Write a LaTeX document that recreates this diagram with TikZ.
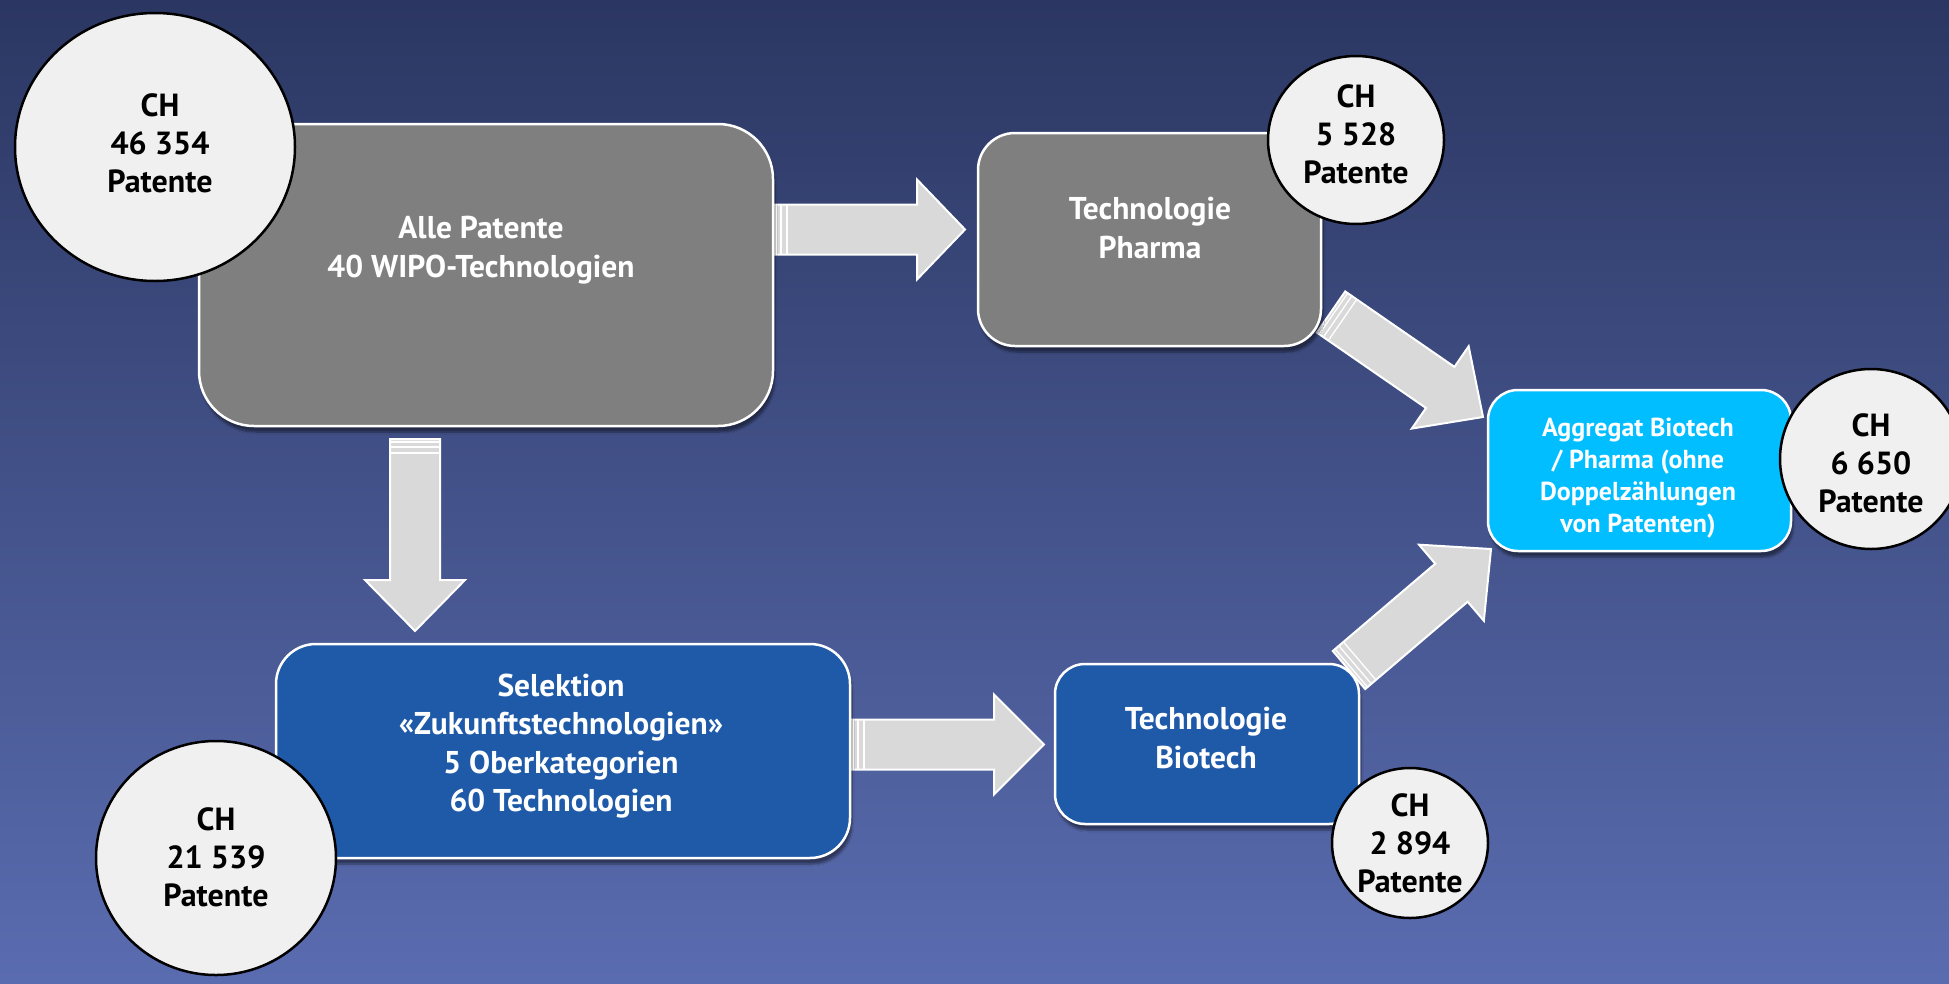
\documentclass[tikz,border=0pt]{standalone}
\usepackage{fontspec}
\setmainfont{PT Sans}
\usetikzlibrary{calc,shadows.blur,shapes.geometric}
\definecolor{bgtop}{HTML}{2B3762}
\definecolor{bgbot}{HTML}{5A6CB0}
\definecolor{boxgray}{HTML}{7F7F7F}
\definecolor{boxblue}{HTML}{1F5AA8}
\definecolor{boxcyan}{HTML}{00BEFF}
\definecolor{circfill}{HTML}{F0F0F0}
\definecolor{arrfill}{HTML}{D9D9D9}
\tikzset{
  panel/.style={draw=white, line width=2.5pt, rounded corners=#1,
    blur shadow={shadow xshift=2pt, shadow yshift=-6pt, shadow opacity=45, shadow blur steps=8}},
  panel/.default=35pt,
  boxtext/.style={text=white, align=center, font=\bfseries\fontsize{31.5}{38.5}\selectfont},
  smalltext/.style={text=white, align=center, font=\bfseries\fontsize{26}{32}\selectfont},
  circ/.style={ellipse, draw=black, line width=2.5pt, fill=circfill, inner sep=0pt},
  circtext/.style={text=black, align=center, font=\bfseries\fontsize{32}{38}\selectfont},
  arrowbody/.style={fill=arrfill, draw=white, line width=2pt, line join=miter},
  stripe/.style={draw=white, line width=1.3pt}
}
\newcommand\blockarrow[3]{%
  \coordinate (#1-hb) at ($(#2)!#3!(#1)$);
  \path[arrowbody] ($(#1)!25pt!90:(#2)$) -- ($(#1-hb)!25pt!90:(#2)$) -- ($(#1-hb)!50pt!90:(#2)$) -- (#2)
    -- ($(#1-hb)!50pt!-90:(#2)$) -- ($(#1-hb)!25pt!-90:(#2)$) -- ($(#1)!25pt!-90:(#2)$) -- cycle;
  \foreach \d in {3pt,8pt,14pt}{
    \coordinate (#1-s) at ($(#1)!\d!(#2)$);
    \draw[stripe] ($(#1-s)!25pt!90:(#2)$) -- ($(#1-s)!25pt!-90:(#2)$);
  }%
}
\begin{document}
\begin{tikzpicture}[x=1pt,y=-1pt]
\useasboundingbox (0,0) rectangle (1949,983);
\shade[top color=bgtop, bottom color=bgbot] (0,0) rectangle (1949,983);

% connectors (block arrows)
\coordinate (t1) at (773,229.5);  \coordinate (h1) at (965,229.5);
\coordinate (t2) at (415,439);    \coordinate (h2) at (415,631);
\coordinate (t3) at (850,744.5);  \coordinate (h3) at (1044,744.5);
\coordinate (t4) at (1331,312);   \coordinate (h4) at (1483,417);
\coordinate (t5) at (1349,670);   \coordinate (h5) at (1491,549);
\blockarrow{t1}{h1}{48pt}
\blockarrow{t2}{h2}{51pt}
\blockarrow{t3}{h3}{50pt}
\blockarrow{t4}{h4}{52pt}
\blockarrow{t5}{h5}{52pt}

% boxes
\node[panel=55pt, fill=boxgray, minimum width=574pt, minimum height=302pt] (alle) at (486,275) {};
\node[boxtext] (alletx) at (481,250) {Alle Patente\\40 WIPO-Technologien};

\node[panel=37pt, fill=boxgray, minimum width=343pt, minimum height=213pt] (pharma) at (1149.5,239.5) {};
\node[boxtext] (pharmatx) at (1150,228) {Technologie\\Pharma};

\node[panel=40pt, fill=boxblue, minimum width=574pt, minimum height=214pt] (sel) at (563,751) {};
\node[boxtext] (seltx) at (561,746) {Selektion\\«Zukunftstechnologien»\\5 Oberkategorien\\60 Technologien};

\node[panel=30pt, fill=boxblue, minimum width=304pt, minimum height=160pt] (bio) at (1207,744) {};
\node[boxtext] (biotx) at (1206,738) {Technologie\\Biotech};

\node[panel=30pt, fill=boxcyan, minimum width=303pt, minimum height=161pt] (agg) at (1639.5,470.5) {};
\node[smalltext] (aggtx) at (1638,478) {Aggregat Biotech\\/ Pharma (ohne\\Doppelzählungen\\von Patenten)};

% circles
\node[circ, minimum width=280pt, minimum height=268pt] (c1) at (155,147) {};
\node[circtext] (c1tx) at (160,143.5) {CH\\46 354\\Patente};

\node[circ, minimum width=176pt, minimum height=168pt] (c2) at (1356,140) {};
\node[circtext] (c2tx) at (1356,134.5) {CH\\5 528\\Patente};

\node[circ, minimum width=240pt, minimum height=234pt] (c3) at (216,858) {};
\node[circtext] (c3tx) at (216,857) {CH\\21 539\\Patente};

\node[circ, minimum width=156pt, minimum height=150pt] (c4) at (1410,843) {};
\node[circtext] (c4tx) at (1410,843) {CH\\2 894\\Patente};

\node[circ, minimum width=182pt, minimum height=180pt] (c5) at (1871,459) {};
\node[circtext] (c5tx) at (1871,463) {CH\\6 650\\Patente};
\end{tikzpicture}
\end{document}
